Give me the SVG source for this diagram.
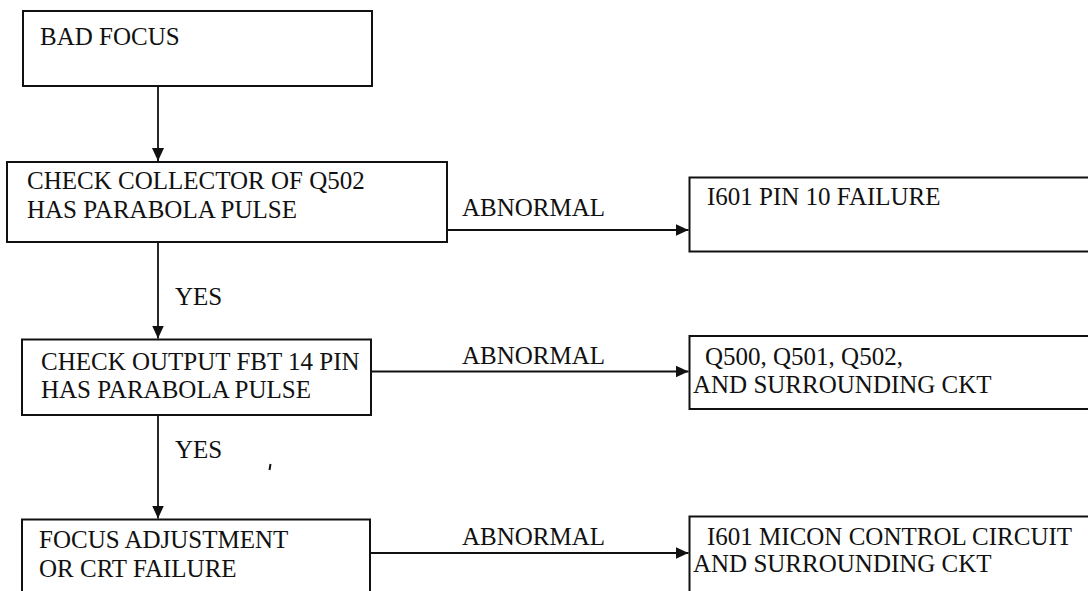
<svg xmlns="http://www.w3.org/2000/svg" width="1088" height="591" viewBox="0 0 1088 591">
<style>
.box{fill:#fff;stroke:#111;stroke-width:2}
.t{font-family:'Liberation Serif','Times New Roman',serif;font-size:25px;fill:#111}
.c{stroke:#111;stroke-width:1.8;fill:none}
</style>
<defs>
<marker id="ah" viewBox="0 0 13 12" refX="13" refY="6" markerWidth="13" markerHeight="12" markerUnits="userSpaceOnUse" orient="auto">
<path d="M0,0 L13,6 L0,12 Z" fill="#111"/>
</marker>
</defs>
<rect width="1088" height="591" fill="#fff"/>
<g id="n1"><rect class="box" x="23" y="11" width="349" height="75"/><text class="t" x="40" y="45">BAD FOCUS</text></g>
<g id="n2"><rect class="box" x="7" y="162" width="440" height="80"/><text class="t" x="27" y="189">CHECK COLLECTOR OF Q502</text><text class="t" x="27" y="218">HAS PARABOLA PULSE</text></g>
<g id="n3"><rect class="box" x="689.5" y="177.5" width="410" height="74"/><text class="t" x="707" y="205">I601 PIN 10 FAILURE</text></g>
<g id="n4"><rect class="box" x="22" y="339.5" width="349" height="75.5"/><text class="t" x="41" y="370">CHECK OUTPUT FBT 14 PIN</text><text class="t" x="41" y="398">HAS PARABOLA PULSE</text></g>
<g id="n5"><rect class="box" x="689.5" y="336" width="410" height="73"/><text class="t" x="705" y="365">Q500, Q501, Q502,</text><text class="t" x="693" y="392.5">AND SURROUNDING CKT</text></g>
<g id="n6"><rect class="box" x="22" y="519.5" width="348" height="90"/><text class="t" x="39" y="548">FOCUS ADJUSTMENT</text><text class="t" x="39" y="577">OR CRT FAILURE</text></g>
<g id="n7"><rect class="box" x="689.5" y="516.5" width="410" height="90"/><text class="t" x="707" y="545">I601 MICON CONTROL CIRCUIT</text><text class="t" x="693" y="572">AND SURROUNDING CKT</text></g>
<g id="connectors">
<line class="c" x1="158" y1="87" x2="158" y2="161" marker-end="url(#ah)"/>
<line class="c" x1="158" y1="242" x2="158" y2="338.5" marker-end="url(#ah)"/>
<line class="c" x1="158" y1="415" x2="158" y2="518.5" marker-end="url(#ah)"/>
<line class="c" x1="447" y1="230" x2="688.5" y2="230" marker-end="url(#ah)"/>
<line class="c" x1="371" y1="371.5" x2="688.5" y2="371.5" marker-end="url(#ah)"/>
<line class="c" x1="370" y1="553" x2="688.5" y2="553" marker-end="url(#ah)"/>
<text class="t" x="175" y="305">YES</text>
<text class="t" x="175" y="458">YES</text>
<text class="t" x="462" y="216">ABNORMAL</text>
<text class="t" x="462" y="364">ABNORMAL</text>
<text class="t" x="462" y="545">ABNORMAL</text>
</g>
<line x1="270.5" y1="464" x2="269.5" y2="470" stroke="#111" stroke-width="2"/>
</svg>
